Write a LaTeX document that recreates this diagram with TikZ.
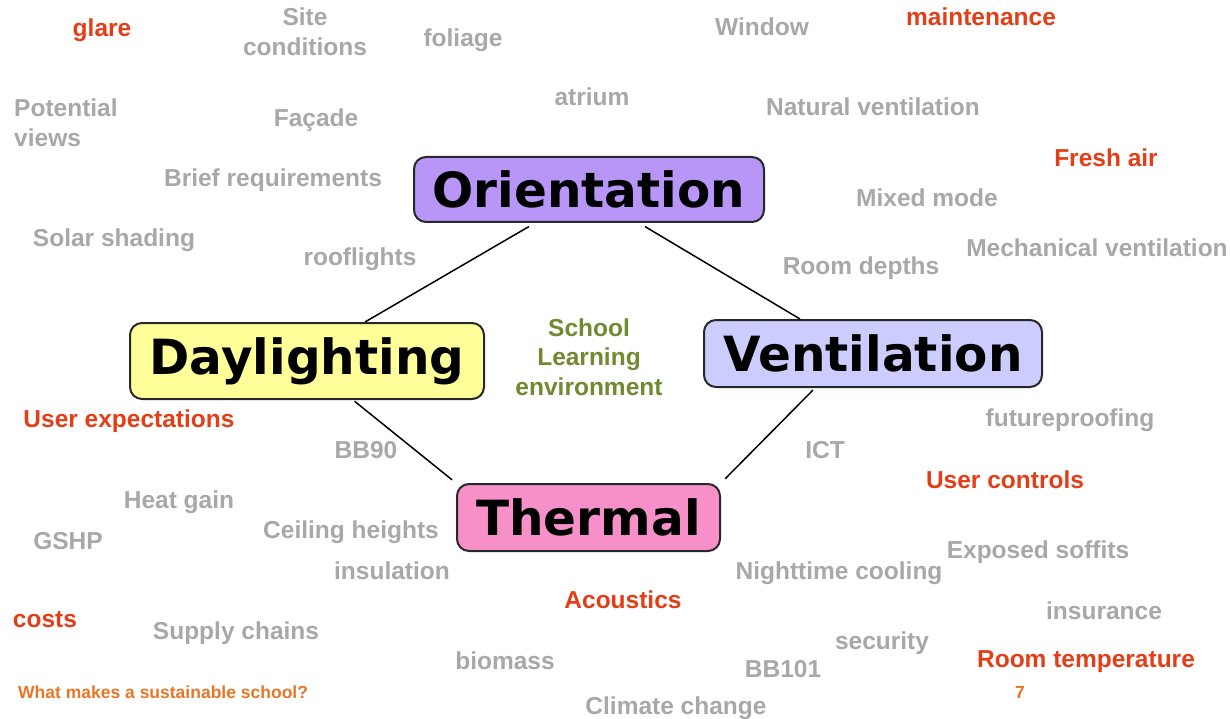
\documentclass[tikz,border=0pt]{standalone}
\usepackage{fontspec}
\setmainfont{Liberation Sans}
\newfontfamily\boxfont{DejaVu Sans}
\usetikzlibrary{calc}
\definecolor{lgray}{RGB}{168,168,168}
\definecolor{lred}{RGB}{228,62,24}
\definecolor{lgreen}{RGB}{112,138,48}
\definecolor{lorange}{RGB}{230,118,40}
\definecolor{orfill}{RGB}{183,150,248}
\definecolor{dlfill}{RGB}{255,255,153}
\definecolor{vefill}{RGB}{204,204,255}
\definecolor{thfill}{RGB}{247,143,200}
\definecolor{edge}{RGB}{40,40,40}
\tikzset{
  lbl/.style={anchor=base, inner sep=0pt, font=\fontsize{24.5}{30}\selectfont\bfseries, text=lgray},
  redlbl/.style={lbl, text=lred},
  topic/.style={draw=edge, line width=2pt, rounded corners=12pt, inner sep=0pt,
    font=\fontsize{48.5}{56}\selectfont\boxfont\bfseries, text=black},
  link/.style={draw=black, line width=1.5pt},
}
\newcommand{\twol}[2]{\begin{tabular}[t]{@{}c@{}}#1\\#2\end{tabular}}
\begin{document}
\begin{tikzpicture}[x=1pt,y=-1pt]
\useasboundingbox[fill=white] (0,0) rectangle (1230,719);
% topic boxes
\node[topic, fill=orfill, minimum width=350pt, minimum height=65pt] (or) at (589,189.5) {Orientation};
\node[topic, fill=dlfill, minimum width=354pt, minimum height=76pt] (dl) at (307,361) {Daylighting};
\node[topic, fill=vefill, minimum width=338pt, minimum height=67pt] (ve) at (873,353.5) {Ventilation};
\node[topic, fill=thfill, minimum width=263pt, minimum height=67pt] (th) at (588.5,517.5) {Thermal};
% connectors
\draw[link, shorten <=7pt] ([xshift=-54pt]or.south) -- ([xshift=58pt]dl.north);
\draw[link, shorten <=7pt] ([xshift=50pt]or.south) -- ([xshift=-73pt]ve.north);
\draw[link, shorten <=2pt, shorten >=5pt] ([xshift=46pt]dl.south) -- (th.north west);
\draw[link, shorten <=3pt, shorten >=6pt] ([xshift=-58pt]ve.south) -- (th.north east);
% labels
\node[redlbl] (glare) at (102,37) {glare};
\node[lbl] (site) at (305,26) {\twol{Site}{conditions}};
\node[lbl] (foliage) at (463,47) {foliage};
\node[lbl] (window) at (762,36) {Window};
\node[redlbl] (maint) at (981,26) {maintenance};
\node[lbl, anchor=base west] (views) at (14,117) {\begin{tabular}[t]{@{}l@{}}Potential\\views\end{tabular}};
\node[lbl] (facade) at (316,127) {Façade};
\node[lbl] (atrium) at (592,106) {atrium};
\node[lbl] (natvent) at (873,116) {Natural ventilation};
\node[redlbl] (fresh) at (1106,167) {Fresh air};
\node[lbl] (brief) at (273,187) {Brief requirements};
\node[lbl] (mixed) at (927,207) {Mixed mode};
\node[lbl] (solar) at (114,247) {Solar shading};
\node[lbl] (roofl) at (360,265) {rooflights};
\node[lbl] (mech) at (1097,256) {Mechanical ventilation};
\node[lbl] (depths) at (861,274) {Room depths};
\node[lbl, text=lgreen, font=\fontsize{24.5}{29.5}\selectfont\bfseries] (school) at (589,336)
  {\begin{tabular}[t]{@{}c@{}}School\\Learning\\environment\end{tabular}};
\node[redlbl] (userexp) at (129,427) {User expectations};
\node[lbl] (future) at (1070,426) {futureproofing};
\node[lbl] (bb90) at (366,458) {BB90};
\node[lbl] (ict) at (825,458) {ICT};
\node[redlbl] (userctl) at (1005,488) {User controls};
\node[lbl] (heat) at (179,508) {Heat gain};
\node[lbl] (gshp) at (68,549) {GSHP};
\node[lbl] (ceiling) at (351,538) {Ceiling heights};
\node[lbl] (soffits) at (1038,558) {Exposed soffits};
\node[lbl] (insul) at (392,579) {insulation};
\node[lbl] (night) at (839,579) {Nighttime cooling};
\node[redlbl] (acoust) at (623,608) {Acoustics};
\node[redlbl] (costs) at (45,627) {costs};
\node[lbl] (insur) at (1104,619) {insurance};
\node[lbl] (supply) at (236,639) {Supply chains};
\node[lbl] (secur) at (882,649) {security};
\node[lbl] (biomass) at (505,669) {biomass};
\node[lbl] (bb101) at (783,677) {BB101};
\node[redlbl] (roomtemp) at (1086,667) {Room temperature};
\node[lbl] (climate) at (676,714) {Climate change};
\node[lbl, anchor=base west, text=lorange, font=\fontsize{17.5}{20}\selectfont\bfseries] (title) at (18,698) {What makes a sustainable school?};
\node[lbl, text=lorange, font=\fontsize{17.5}{20}\selectfont\bfseries] (page) at (1020,698) {7};
\end{tikzpicture}
\end{document}
